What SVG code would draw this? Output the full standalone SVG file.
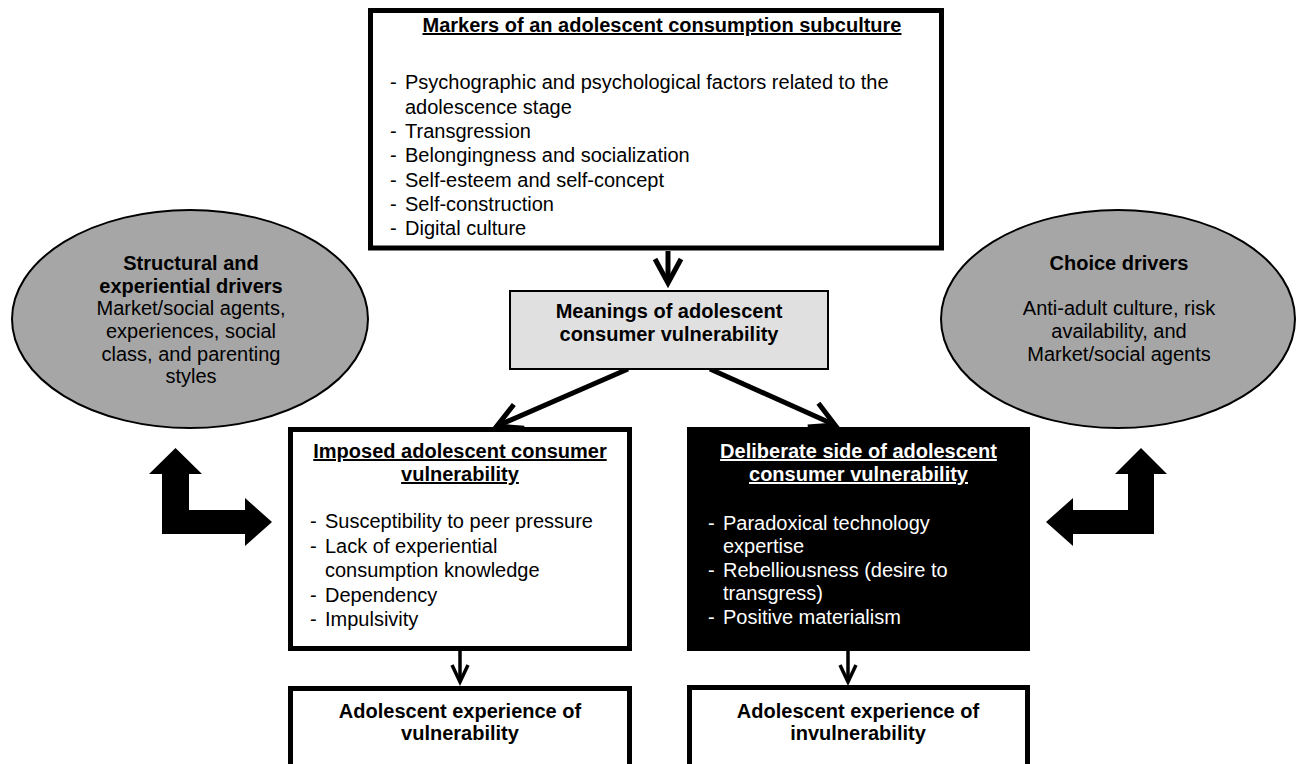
<svg xmlns="http://www.w3.org/2000/svg" width="1296" height="764" viewBox="0 0 1296 764">
<defs>
<style>
text{font-family:"Liberation Sans",Arial,sans-serif;font-size:20px;fill:#000}
.b{font-weight:bold}
.u{text-decoration:underline}
.c{text-anchor:middle}
.w{fill:#fff}
.box{fill:#fff;stroke:#000;stroke-width:5}
.ell{fill:#a6a6a6;stroke:#000;stroke-width:2}
.con{fill:none;stroke:#000;stroke-width:5}
.con2{fill:none;stroke:#000;stroke-width:3.5}
</style>
<marker id="ah" markerUnits="userSpaceOnUse" markerWidth="60" markerHeight="60" viewBox="-30 -30 60 60" refX="0" refY="0" orient="auto" overflow="visible">
<path d="M-24,-13 L0,0 L-24,13" fill="none" stroke="#000" stroke-width="5"/>
</marker>
<marker id="ah2" markerUnits="userSpaceOnUse" markerWidth="40" markerHeight="40" viewBox="-20 -20 40 40" refX="0" refY="0" orient="auto" overflow="visible">
<path d="M-17,-8 L0,0 L-17,8" fill="none" stroke="#000" stroke-width="3.5"/>
</marker>
</defs>
<rect width="1296" height="764" fill="#fff"/>

<g id="connectors">
<line class="con" x1="668" y1="251" x2="668" y2="283" marker-end="url(#ah)"/>
<line class="con" x1="628" y1="369" x2="497" y2="426" marker-end="url(#ah)"/>
<line class="con" x1="710" y1="369" x2="835" y2="425" marker-end="url(#ah)"/>
<line class="con2" x1="460" y1="651" x2="460" y2="682" marker-end="url(#ah2)"/>
<line class="con2" x1="848" y1="651" x2="848" y2="682" marker-end="url(#ah2)"/>
<polygon id="bent-left" fill="#000" points="175.5,448 202,474 189,474 189,510 245,510 245,498 272,522 245,546 245,534 162,534 162,474 149,474"/>
<polygon id="bent-right" fill="#000" points="1046,522 1073,498 1073,510 1128,510 1128,474 1115,474 1141,448 1167,474 1154,474 1154,534 1073,534 1073,546"/>
</g>

<g id="markers">
<rect class="box" x="370.5" y="10.5" width="571" height="237.5"/>
<text class="b u c" x="662" y="32">Markers of an adolescent consumption subculture</text>
<text x="390" y="89">-</text><text x="405" y="89">Psychographic and psychological factors related to the</text>
<text x="405" y="113.5">adolescence stage</text>
<text x="390" y="138">-</text><text x="405" y="138">Transgression</text>
<text x="390" y="162">-</text><text x="405" y="162">Belongingness and socialization</text>
<text x="390" y="186.5">-</text><text x="405" y="186.5">Self-esteem and self-concept</text>
<text x="390" y="211">-</text><text x="405" y="211">Self-construction</text>
<text x="390" y="235">-</text><text x="405" y="235">Digital culture</text>
</g>

<g id="structural">
<ellipse class="ell" cx="190" cy="319" rx="178" ry="109"/>
<text class="b c" x="191" y="270">Structural and</text>
<text class="b c" x="191" y="293">experiential drivers</text>
<text class="c" x="191" y="315">Market/social agents,</text>
<text class="c" x="191" y="338">experiences, social</text>
<text class="c" x="191" y="361">class, and parenting</text>
<text class="c" x="191" y="383">styles</text>
</g>

<g id="choice">
<ellipse class="ell" cx="1118" cy="319" rx="177" ry="109"/>
<text class="b c" x="1119" y="270">Choice drivers</text>
<text class="c" x="1119" y="315">Anti-adult culture, risk</text>
<text class="c" x="1119" y="338">availability, and</text>
<text class="c" x="1119" y="361">Market/social agents</text>
</g>

<g id="meanings">
<rect x="510" y="291" width="318" height="78" fill="#e0e0e0" stroke="#000" stroke-width="2"/>
<text class="b c" x="669" y="318">Meanings of adolescent</text>
<text class="b c" x="669" y="341">consumer vulnerability</text>
</g>

<g id="imposed">
<rect class="box" x="290.5" y="429.5" width="339" height="219"/>
<text class="b u c" x="460" y="458">Imposed adolescent consumer</text>
<text class="b u c" x="460" y="481">vulnerability</text>
<text x="310" y="528">-</text><text x="325" y="528">Susceptibility to peer pressure</text>
<text x="310" y="552.5">-</text><text x="325" y="552.5">Lack of experiential</text>
<text x="325" y="577">consumption knowledge</text>
<text x="310" y="601.5">-</text><text x="325" y="601.5">Dependency</text>
<text x="310" y="626">-</text><text x="325" y="626">Impulsivity</text>
</g>

<g id="deliberate">
<rect x="687" y="427" width="343" height="224" fill="#000"/>
<text class="b u c w" x="858.5" y="458">Deliberate side of adolescent</text>
<text class="b u c w" x="858.5" y="481">consumer vulnerability</text>
<text class="w" x="708" y="530">-</text><text class="w" x="723" y="530">Paradoxical technology</text>
<text class="w" x="723" y="553">expertise</text>
<text class="w" x="708" y="577">-</text><text class="w" x="723" y="577">Rebelliousness (desire to</text>
<text class="w" x="723" y="600">transgress)</text>
<text class="w" x="708" y="624">-</text><text class="w" x="723" y="624">Positive materialism</text>
</g>

<g id="vulnerability">
<rect class="box" x="290.5" y="688.5" width="339" height="100"/>
<text class="b c" x="460" y="718">Adolescent experience of</text>
<text class="b c" x="460" y="740">vulnerability</text>
</g>

<g id="invulnerability">
<rect class="box" x="689.5" y="687.5" width="338" height="100"/>
<text class="b c" x="858" y="718">Adolescent experience of</text>
<text class="b c" x="858" y="740">invulnerability</text>
</g>
</svg>
